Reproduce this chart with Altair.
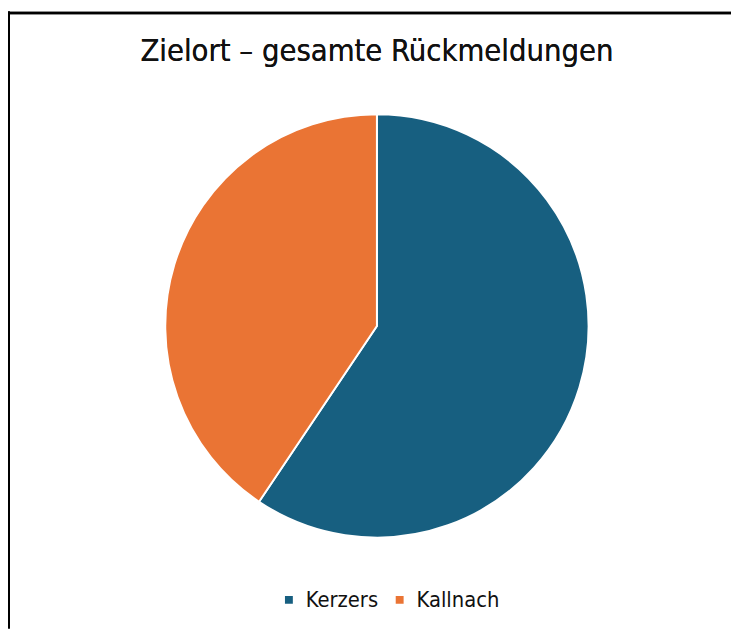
import altair as alt
import pandas as pd

categories = ["Kerzers", "Kallnach"]
shares = [59.4, 40.6]
colors = ["#175F80", "#EA7434"]

df = pd.DataFrame({"Zielort": categories, "Anteil": shares, "order": [0, 1]})

W, H = 731, 624

pie = alt.Chart(df).mark_arc(outerRadius=214, stroke="white", strokeWidth=2).encode(
    theta=alt.Theta("Anteil:Q", stack=True),
    order=alt.Order("order:Q"),
    color=alt.Color(
        "Zielort:N",
        scale=alt.Scale(domain=categories, range=colors),
        sort=categories,
        legend=alt.Legend(
            title=None,
            orient="none",
            legendX=273,
            legendY=584,
            direction="horizontal",
            symbolType="square",
            symbolSize=90,
            labelFontSize=22,
            labelFont="DejaVu Sans Condensed",
            labelColor="#111111",
            labelOffset=6,
            columnPadding=10,
            symbolOffset=0,
        ),
    ),
    x=alt.value(373),
    y=alt.value(318),
)

top_line = alt.Chart(df).mark_rule(color="black", strokeWidth=2.5).encode(
    x=alt.value(0), x2=alt.value(W), y=alt.value(1.5)
)
left_line = alt.Chart(df).mark_rule(color="black", strokeWidth=2).encode(
    x=alt.value(1), y=alt.value(0), y2=alt.value(H)
)

title_layer = alt.Chart(df).mark_text(
    text="Zielort – gesamte Rückmeldungen",
    font="DejaVu Sans Condensed",
    fontSize=31,
    color="#111111",
    align="center",
    baseline="middle",
).encode(x=alt.value(373), y=alt.value(41))

chart = alt.layer(top_line, left_line, pie, title_layer).properties(
    width=W, height=H,
    autosize=alt.AutoSizeParams(type="none"),
    padding=0,
).configure_view(stroke=None)

chart.save("out.html", embed_options={"renderer": "svg", "actions": False})
